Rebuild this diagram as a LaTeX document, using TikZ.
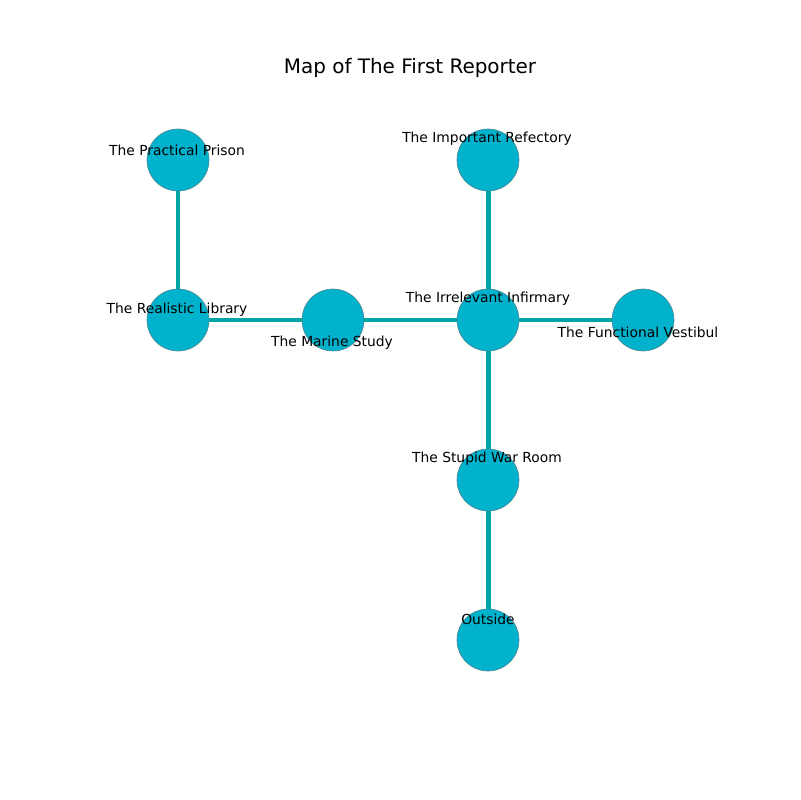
\documentclass[tikz,border=0pt]{standalone}
\usepackage{fontspec}
\setmainfont{DejaVu Sans}
\definecolor{roomfill}{RGB}{0,178,204}
\definecolor{roomedge}{RGB}{80,130,140}
\definecolor{passage}{RGB}{0,166,166}
\begin{document}
\begin{tikzpicture}[
			x=0.01in, y=-0.01in,
			room/.style={circle,draw=roomedge,fill=roomfill,line width=0.4pt,
			inner sep=0pt,minimum size=0.62in},
			link/.style={draw=passage, line width=3.6pt},
			tag/.style={font=\fontsize{10}{12}\selectfont, inner sep=0pt}
			]
			\useasboundingbox (0,0) rectangle (800,800);
			\node[font=\fontsize{14.4}{17}\selectfont] (title) at (410,68) {Map of The First Reporter};
			% rooms
			\coordinate (pp) at (178,160);
			\coordinate (rl) at (178,320);
			\coordinate (ms) at (333,320);
			\coordinate (ii) at (488,320);
			\coordinate (ir) at (488,160);
			\coordinate (fv) at (643,320);
			\coordinate (sw) at (488,480);
			\coordinate (out) at (488,640);
			% passages
			\draw[link] (pp) -- (rl);
			\draw[link] (rl) -- (ms);
			\draw[link] (ms) -- (ii);
			\draw[link] (ii) -- (ir);
			\draw[link] (ii) -- (fv);
			\draw[link] (ii) -- (sw);
			\draw[link] (sw) -- (out);
			\foreach \r in {pp,rl,ms,ii,ir,fv,sw,out}
				\node[room] (\r c) at (\r) {};
			% names
			\node[tag] (ppt) at ([shift={(-1,-10)}]pp) {The Practical Prison};
			\node[tag] (rlt) at ([shift={(-1,-10)}]rl) {The Realistic Library};
			\node[tag] (mst) at ([shift={(-1,23)}]ms) {The Marine Study};
			\node[tag] (iit) at ([shift={(0,-21)}]ii) {The Irrelevant Infirmary};
			\node[tag] (irt) at ([shift={(-1,-21)}]ir) {The Important Refectory};
			\node[tag] (fvt) at ([shift={(-5,12)}]fv) {The Functional Vestibul};
			\node[tag] (swt) at ([shift={(-1,-21)}]sw) {The Stupid War Room};
			\node[tag] (outt) at ([shift={(0,-21)}]out) {Outside};
		\end{tikzpicture}
\end{document}
